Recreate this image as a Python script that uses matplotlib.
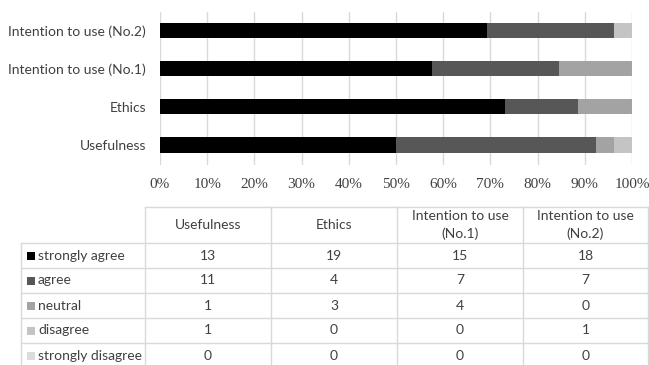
import numpy as np
import matplotlib
matplotlib.use('Agg')
import matplotlib.pyplot as plt

# data
categories = ['Usefulness', 'Ethics', 'Intention to use (No.1)', 'Intention to use (No.2)']
col_headers = ['Usefulness', 'Ethics', 'Intention to use\n(No.1)', 'Intention to use\n(No.2)']
levels = ['strongly agree', 'agree', 'neutral', 'disagree', 'strongly disagree']
counts = {
    'strongly agree':    [13, 19, 15, 18],
    'agree':             [11, 4, 7, 7],
    'neutral':           [1, 3, 4, 0],
    'disagree':          [1, 0, 0, 1],
    'strongly disagree': [0, 0, 0, 0],
}
colors = ['#000000', '#575757', '#a3a3a3', '#c4c4c4', '#dcdcdc']
xticks = np.arange(0, 101, 10)

sans = 'Lato'
serif = 'Liberation Serif'
text_col = '#404040'

W, H = 649, 365
fig = plt.figure(figsize=(W / 100, H / 100), dpi=100)

# ---- stacked bar chart ----
ax = fig.add_axes([160 / W, 1 - 165 / H, 472 / W, 153.5 / H])
mat = np.array([counts[l] for l in levels], dtype=float)
pct = mat / mat.sum(axis=0) * 100
y = np.arange(len(categories))
left = np.zeros(len(categories))
for i, lvl in enumerate(levels):
    ax.barh(y, pct[i], left=left, height=0.4, color=colors[i], zorder=3)
    left += pct[i]

ax.set_xlim(0, 100)
ax.set_ylim(-0.525, 3.5)
ax.set_xticks(xticks)
ax.set_xticklabels([f'{t}%' for t in xticks], fontfamily=serif, fontsize=11, color=text_col)
ax.set_yticks(y)
ax.set_yticklabels(categories, fontfamily=sans, fontsize=10, color=text_col)
ax.tick_params(length=0)
ax.tick_params(axis='x', pad=9)
ax.tick_params(axis='y', pad=10)
ax.grid(axis='x', color='#d9d9d9', linewidth=1, zorder=0)
for s in ax.spines.values():
    s.set_visible(False)

# ---- data table below ----
tx = fig.add_axes([0, 0, 1, 1])
tx.set_xlim(0, W)
tx.set_ylim(H, 0)
tx.axis('off')

line_c = '#d9d9d9'
col_x = [21, 145, 271, 397, 523, 648]
head_top, head_bot = 207, 243
row_h = 25
row_y = [head_bot + k * row_h for k in range(len(levels) + 1)]

# header cells
tx.plot([col_x[1], col_x[-1]], [head_top, head_top], color=line_c, lw=1)
for xx in col_x[1:]:
    tx.plot([xx, xx], [head_top, row_y[-1]], color=line_c, lw=1)
tx.plot([col_x[0], col_x[0]], [head_bot, row_y[-1]], color=line_c, lw=1)
for yy in row_y:
    tx.plot([col_x[0], col_x[-1]], [yy, yy], color=line_c, lw=1)

for j, h in enumerate(col_headers):
    cx = (col_x[j + 1] + col_x[j + 2]) / 2
    tx.text(cx, (head_top + head_bot) / 2, h, ha='center', va='center',
            fontfamily=sans, fontsize=10, color=text_col, linespacing=1.5)

for i, lvl in enumerate(levels):
    cy = row_y[i] + row_h / 2
    tx.add_patch(plt.Rectangle((27, cy - 4), 8, 8, color=colors[i], lw=0))
    tx.text(38, cy, lvl, ha='left', va='center', fontfamily=sans,
            fontsize=10, color=text_col)
    for j, v in enumerate(counts[lvl]):
        cx = (col_x[j + 1] + col_x[j + 2]) / 2
        tx.text(cx, cy, str(v), ha='center', va='center', fontfamily=sans,
                fontsize=10, color=text_col)

fig.savefig('out.png', dpi=100)
